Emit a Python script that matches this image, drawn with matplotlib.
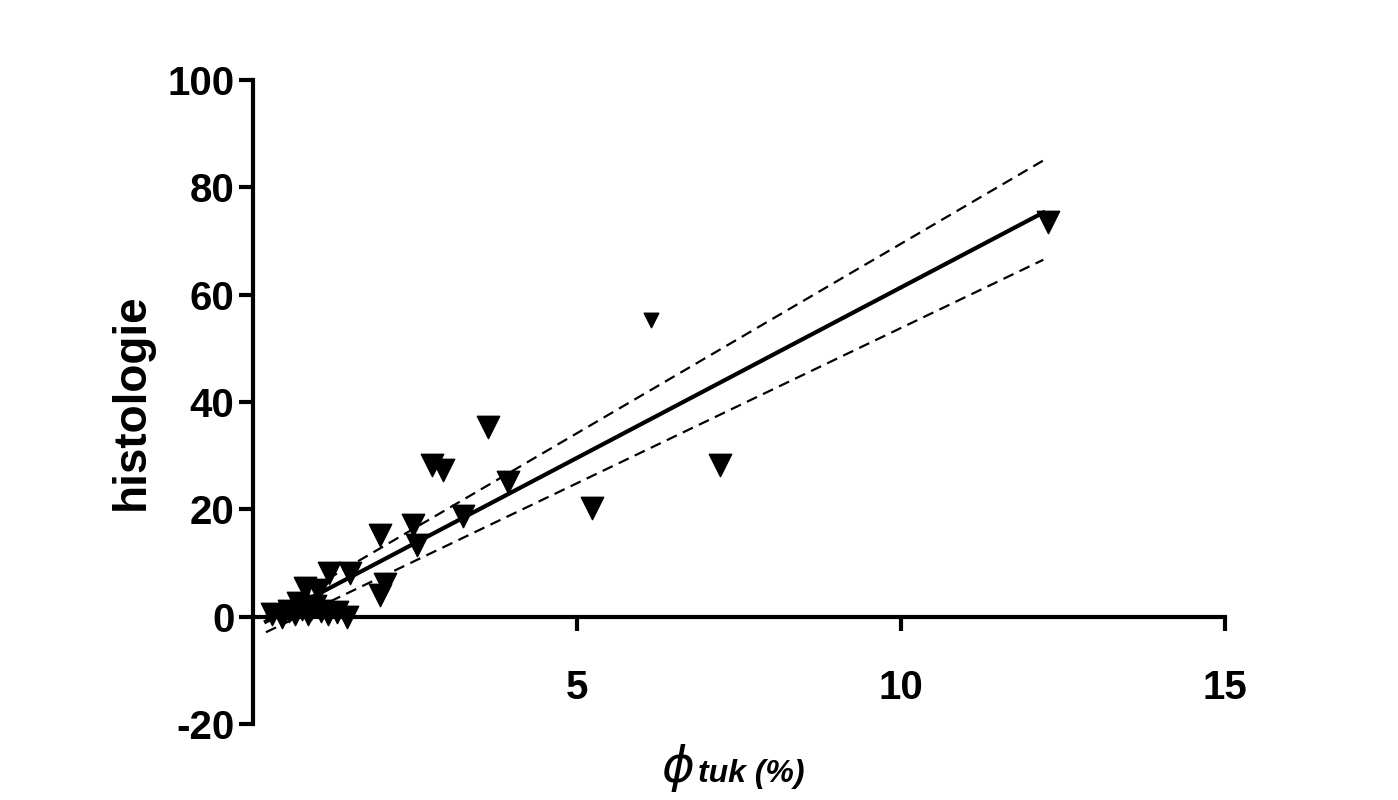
import numpy as np
import matplotlib
matplotlib.use("Agg")
import matplotlib.pyplot as plt

plt.rcParams['font.family'] = ['Liberation Sans', 'DejaVu Sans']
plt.rcParams['axes.unicode_minus'] = False

# data
x_pts = [12.27, 3.62, 2.77, 2.93, 3.93, 7.21, 5.24, 3.24, 1.96, 2.47, 2.53,
         2.03, 1.96, 1.18, 1.49, 0.80, 1.00, 0.30, 0.45, 0.55, 0.65, 0.75,
         0.85, 0.95, 1.05, 1.15, 1.30, 0.70, 0.90, 1.45]
y_pts = [73.6, 35.4, 28.3, 27.4, 25.1, 28.3, 20.3, 18.8, 15.3, 17.1, 13.4,
         6.0, 4.1, 8.2, 8.2, 5.4, 5.0, 0.5, 0.0, 1.0, 0.5, 1.5,
         0.5, 2.0, 1.0, 0.5, 0.8, 2.5, 1.5, 0.0]
x_small = [6.14]
y_small = [55.3]

fit_x = [0.2, 12.2]
fit_y = [-0.9, 75.3]
upper_y = [0.3, 85.0]
lower_y = [-2.9, 66.5]

fig = plt.figure(figsize=(13.98, 8.0), dpi=100)
ax = fig.add_axes([0.181, 0.095, 0.695, 0.805])

ax.scatter(x_pts, y_pts, marker='v', s=260, color='black', zorder=3)
ax.scatter(x_small, y_small, marker='v', s=110, color='black', zorder=3)
ax.plot(fit_x, fit_y, color='black', lw=3)
ax.plot(fit_x, upper_y, color='black', lw=1.6, ls=(0, (5, 3)))
ax.plot(fit_x, lower_y, color='black', lw=1.6, ls=(0, (5, 3)))

ax.set_xlim(0, 15)
ax.set_ylim(-20, 100)
ax.spines['top'].set_visible(False)
ax.spines['right'].set_visible(False)
ax.spines['bottom'].set_position(('data', 0))
ax.spines['bottom'].set_linewidth(3)
ax.spines['left'].set_linewidth(3)
ax.set_xticks([5, 10, 15])
ax.set_yticks([-20, 0, 20, 40, 60, 80, 100])
ax.tick_params(width=3, length=10, labelsize=29)
ax.tick_params(axis='x', pad=28)
for lab in ax.get_xticklabels() + ax.get_yticklabels():
    lab.set_fontweight('bold')

ax.set_ylabel('histologie', fontsize=33, fontweight='bold', labelpad=10)
fig.text(0.497, 0.04, r'$\phi$', fontsize=36, ha='right', va='center')
fig.text(0.499, 0.033, 'tuk (%)', fontsize=23, fontweight='bold', style='italic',
         ha='left', va='center')

fig.savefig('out.png')
